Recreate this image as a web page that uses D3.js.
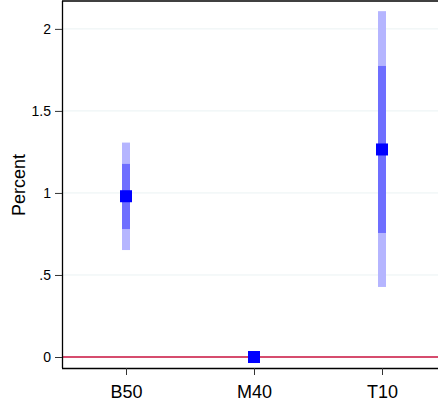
<!DOCTYPE html>
<html>
<head>
<meta charset="utf-8">
<script src="https://cdn.jsdelivr.net/npm/d3@7"></script>
<style>
  body { margin: 0; background: #fff; }
  svg { display: block; }
</style>
</head>
<body>
<div id="chart"></div>
<script>
// --- DATA ---
const groups = ["B50", "M40", "T10"];
const estimates = [0.98, 0.0, 1.265];
const inner_lo = [0.78, null, 0.756];
const inner_hi = [1.177, null, 1.774];
const outer_lo = [0.652, null, 0.427];
const outer_hi = [1.307, null, 2.108];
const yTicks = [0, 0.5, 1, 1.5, 2];
const yTickLabels = ["0", ".5", "1", "1.5", "2"];

// --- SETUP ---
const width = 438, height = 403;
const svg = d3.select("#chart").append("svg")
    .attr("width", width)
    .attr("height", height);

const plotLeft = 62, plotTop = 1, plotBottom = 368;
const font = "Liberation Sans, Arial, sans-serif";

const x = d3.scaleLinear()
    .domain([0.5, 3.5])
    .range([plotLeft, 446]);

const y = d3.scaleLinear()
    .domain([-0.067, 2.17])
    .range([plotBottom, plotTop]);

// --- GRID ---
svg.append("g")
    .selectAll("line")
    .data(yTicks.filter(d => d !== 0))
    .join("line")
    .attr("x1", plotLeft)
    .attr("x2", width)
    .attr("y1", d => y(d))
    .attr("y2", d => y(d))
    .attr("stroke", "#eaf2f3")
    .attr("stroke-width", 1);

// zero reference line
svg.append("line")
    .attr("x1", plotLeft)
    .attr("x2", width)
    .attr("y1", y(0))
    .attr("y2", y(0))
    .attr("stroke", "#c8103e")
    .attr("stroke-width", 1.3);

// --- FRAME ---
svg.append("line")
    .attr("x1", plotLeft).attr("x2", width)
    .attr("y1", plotTop).attr("y2", plotTop)
    .attr("stroke", "#000").attr("stroke-width", 1.3);

// --- AXES ---
const yAxis = svg.append("g")
    .attr("transform", `translate(${plotLeft},0)`)
    .call(d3.axisLeft(y)
        .tickValues(yTicks)
        .tickFormat((d, i) => yTickLabels[i])
        .tickSize(7)
        .tickPadding(4));

const xAxis = svg.append("g")
    .attr("transform", `translate(0,${plotBottom})`)
    .call(d3.axisBottom(x)
        .tickValues([1, 2, 3])
        .tickFormat((d, i) => groups[i])
        .tickSize(7)
        .tickPadding(10));

[yAxis, xAxis].forEach(ax => {
    ax.attr("font-family", font);
    ax.select(".domain").attr("stroke", "#000").attr("stroke-width", 1.3);
    ax.selectAll(".tick line").attr("stroke", "#333");
    ax.selectAll("text").attr("fill", "#000");
});
yAxis.attr("font-size", 14);
xAxis.attr("font-size", 18);
xAxis.select(".domain").attr("d", `M${plotLeft},0.5H${width}`);
yAxis.select(".domain").attr("d", `M0.5,${plotTop}V${plotBottom}`);

svg.append("text")
    .attr("transform", `translate(25,185) rotate(-90)`)
    .attr("text-anchor", "middle")
    .attr("font-family", font)
    .attr("font-size", 18)
    .attr("fill", "#000")
    .text("Percent");

// --- MARKS ---
const rows = groups.map((g, i) => ({
    i: i + 1,
    est: estimates[i],
    ilo: inner_lo[i], ihi: inner_hi[i],
    olo: outer_lo[i], ohi: outer_hi[i]
}));

const marks = svg.append("g");

marks.selectAll("rect.outer")
    .data(rows.filter(d => d.olo !== null))
    .join("rect")
    .attr("class", "outer")
    .attr("x", d => x(d.i) - 4)
    .attr("width", 8)
    .attr("y", d => y(d.ohi))
    .attr("height", d => y(d.olo) - y(d.ohi))
    .attr("fill", "#b5b5ff");

marks.selectAll("rect.inner")
    .data(rows.filter(d => d.ilo !== null))
    .join("rect")
    .attr("class", "inner")
    .attr("x", d => x(d.i) - 4)
    .attr("width", 8)
    .attr("y", d => y(d.ihi))
    .attr("height", d => y(d.ilo) - y(d.ihi))
    .attr("fill", "#6e6eff");

marks.selectAll("rect.pt")
    .data(rows)
    .join("rect")
    .attr("class", "pt")
    .attr("x", d => x(d.i) - 6)
    .attr("y", d => y(d.est) - 6)
    .attr("width", 12)
    .attr("height", 12)
    .attr("fill", "#0000ff");
</script>
</body>
</html>
